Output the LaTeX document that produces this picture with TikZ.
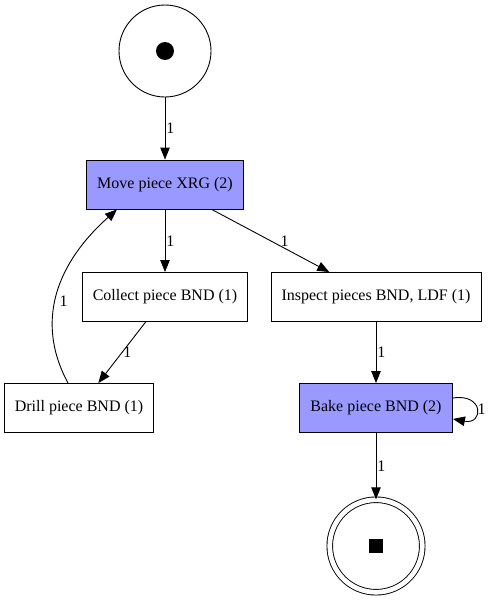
\documentclass[tikz,border=0pt]{standalone}
\usepackage{fontspec}
\setmainfont{Liberation Serif}
\usetikzlibrary{arrows.meta, positioning}
\definecolor{cmove}{HTML}{9999FF}
\tikzset{
  every picture/.style={font=\fontsize{16}{18}\selectfont, line width=0.9pt},
  box/.style={draw, fill=#1, rectangle, inner sep=0pt, minimum height=49pt},
  box/.default=white,
  token/.style={draw, circle, inner sep=0pt, minimum size=92pt},
  arrow/.style={-{Triangle[length=12pt, width=9.5pt]}},
  weight/.style={font=\fontsize{16}{18}\selectfont, inner sep=1pt},
}

\begin{document}
\begin{tikzpicture}[x=1pt, y=-1pt]
  \useasboundingbox (0,0) rectangle (489,600);
  % places
  \node[token] (start) at (165,51) {};
  \fill (start.center) circle (9pt);
  \node[token, double, double distance=4.7pt, minimum size=92.5pt] (end) at (376,546) {};
  \fill (end.center) +(-7,-7) rectangle +(7,7);
  % transitions
  \node[box=cmove, minimum width=157pt] (move) at (165,184.5) {Move piece XRG (2)};
  \node[box, minimum width=165pt] (collect) at (165,297) {Collect piece BND (1)};
  \node[box, minimum width=149pt] (drill) at (79,408) {Drill piece BND (1)};
  \node[box, minimum width=210pt] (inspect) at (376,297) {Inspect pieces BND, LDF (1)};
  \node[box=cmove, minimum width=153pt] (bake) at (376,408) {Bake piece BND (2)};
  % arcs
  \draw[arrow] (start) -- node[weight, right] (w1) {1} (move);
  \draw[arrow] (move) -- node[weight, right] (w2) {1} (collect);
  \draw[arrow] (move) -- node[weight, pos=0.62, above] (w3) {1} (inspect);
  \draw[arrow] (collect) -- node[weight, right] (w4) {1} (drill);
  \draw[arrow] ([xshift=-11pt]drill.north) .. controls (34,320) and (58,262) .. node[weight, right, pos=0.45, inner sep=4pt] (w5) {1} ([xshift=-48pt]move.south);
  \draw[arrow] (inspect) -- node[weight, right] (w6) {1} (bake);
  \draw[arrow] ([yshift=-15pt]bake.north east) .. controls (484,393) and (484,425) .. node[weight, right] (w7) {1} ([yshift=14pt]bake.south east);
  \draw[arrow] (bake) -- node[weight, right] (w8) {1} (end);
\end{tikzpicture}
\end{document}
